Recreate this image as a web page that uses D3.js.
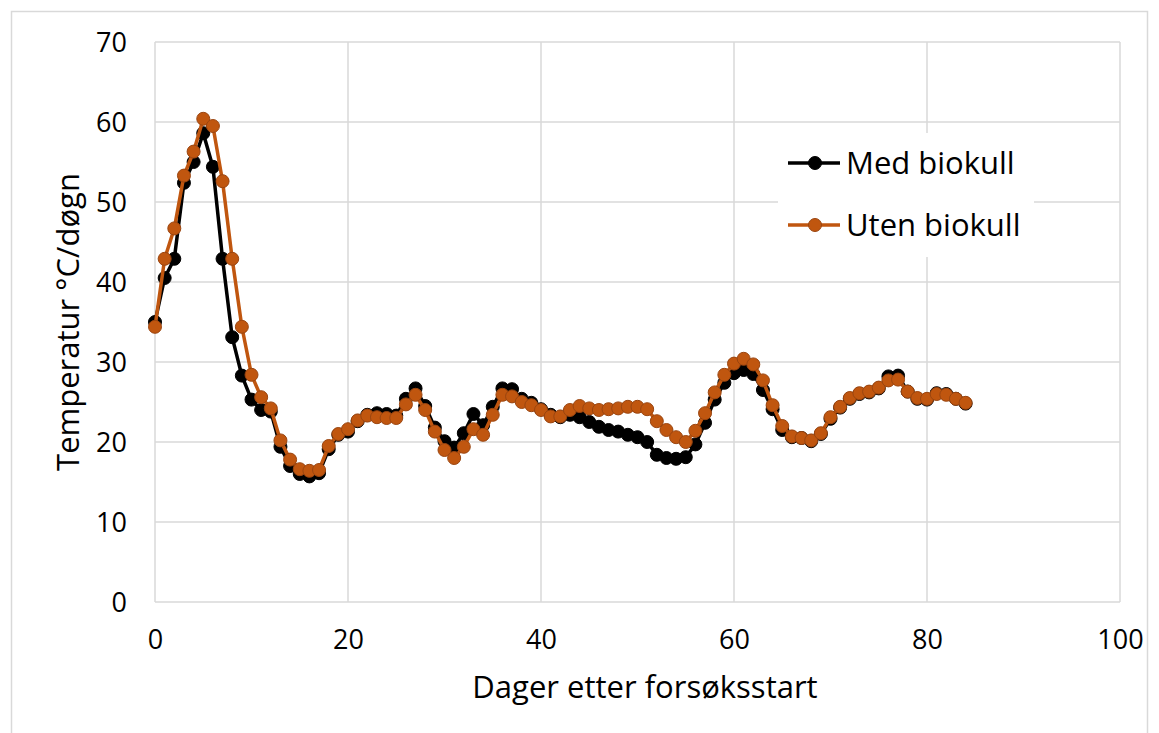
<!DOCTYPE html>
<html>
<head>
<meta charset="utf-8">
<script src="https://cdn.jsdelivr.net/npm/d3@7"></script>
<style>
  body { margin: 0; background: #fff; }
  text { font-family: "Open Sans", "Noto Sans", sans-serif; fill: #000; }
</style>
</head>
<body>
<svg id="chart" width="1159" height="733"></svg>
<script>
// days 0..84
const days = d3.range(0, 85);

const medBiokull = [
  35.0, 40.5, 42.9, 52.4, 55.0, 58.6, 54.4, 42.9, 33.1, 28.3,
  25.3, 24.0, 23.8, 19.4, 17.0, 16.0, 15.7, 16.1, 19.1, 20.9,
  21.3, 22.6, 23.4, 23.6, 23.5, 23.3, 25.4, 26.7, 24.5, 21.8,
  20.1, 19.3, 21.1, 23.5, 22.1, 24.4, 26.7, 26.6, 25.4, 24.9,
  24.1, 23.4, 23.1, 23.4, 23.1, 22.5, 21.9, 21.5, 21.3, 20.9,
  20.6, 20.0, 18.4, 18.0, 17.9, 18.1, 19.7, 22.4, 25.3, 27.4,
  28.6, 29.0, 28.5, 26.5, 24.1, 21.5, 20.6, 20.5, 20.1, 21.0,
  22.9, 24.3, 25.4, 26.0, 26.2, 26.7, 28.2, 28.3, 26.3, 25.4,
  25.3, 26.1, 26.0, 25.4, 24.8
];

const utenBiokull = [
  34.4, 42.9, 46.7, 53.3, 56.3, 60.4, 59.5, 52.6, 42.9, 34.4,
  28.4, 25.6, 24.2, 20.2, 17.8, 16.6, 16.4, 16.5, 19.5, 21.0,
  21.6, 22.7, 23.3, 23.1, 23.0, 23.0, 24.7, 25.9, 24.0, 21.3,
  19.0, 18.0, 19.4, 21.6, 20.9, 23.4, 25.9, 25.7, 25.0, 24.6,
  24.0, 23.2, 23.2, 24.0, 24.5, 24.2, 24.0, 24.1, 24.2, 24.4,
  24.4, 24.1, 22.6, 21.5, 20.6, 20.0, 21.4, 23.6, 26.2, 28.4,
  29.8, 30.4, 29.7, 27.7, 24.6, 22.0, 20.7, 20.5, 20.2, 21.1,
  23.1, 24.4, 25.5, 26.1, 26.3, 26.8, 27.7, 27.8, 26.3, 25.5,
  25.4, 26.0, 25.9, 25.4, 24.9
];

const xTicks = [0, 20, 40, 60, 80, 100];
const yTicks = [0, 10, 20, 30, 40, 50, 60, 70];

const seriesNames = ['Med biokull', 'Uten biokull'];
const seriesColors = ['#000000', '#C0560F'];
const markerEdge = ['#000000', '#9A4510'];

const svg = d3.select('#chart');

// outer chart frame
svg.append('rect')
  .attr('x', 11.5).attr('y', 11.5)
  .attr('width', 1136).attr('height', 740)
  .attr('fill', 'none')
  .attr('stroke', '#d9d9d9')
  .attr('stroke-width', 1.5);

const margin = { top: 42, left: 155, right: 1120, bottom: 602 };

const x = d3.scaleLinear().domain([0, 100]).range([margin.left, margin.right]);
const y = d3.scaleLinear().domain([0, 70]).range([margin.bottom, margin.top]);

// gridlines
svg.append('g')
  .selectAll('line.h')
  .data(yTicks)
  .enter().append('line')
  .attr('x1', margin.left).attr('x2', margin.right)
  .attr('y1', d => y(d)).attr('y2', d => y(d))
  .attr('stroke', '#d9d9d9').attr('stroke-width', 1.5);

svg.append('g')
  .selectAll('line.v')
  .data(xTicks)
  .enter().append('line')
  .attr('x1', d => x(d)).attr('x2', d => x(d))
  .attr('y1', margin.top).attr('y2', margin.bottom)
  .attr('stroke', '#d9d9d9').attr('stroke-width', 1.5);

// axes (labels only)
const xAxis = svg.append('g')
  .attr('transform', 'translate(0,' + margin.bottom + ')')
  .call(d3.axisBottom(x).tickValues(xTicks).tickSize(0).tickPadding(28));
const yAxis = svg.append('g')
  .attr('transform', 'translate(' + margin.left + ',0)')
  .call(d3.axisLeft(y).tickValues(yTicks).tickSize(0).tickPadding(28));
[xAxis, yAxis].forEach(a => {
  a.select('.domain').remove();
  a.selectAll('text').style('font-size', '27px').attr('fill', '#000');
});
yAxis.selectAll('text').attr('dy', '0.35em');

// axis titles
svg.append('text')
  .attr('x', 645)
  .attr('y', 698)
  .attr('text-anchor', 'middle')
  .style('font-size', '31px')
  .text('Dager etter forsøksstart');

svg.append('text')
  .attr('transform', 'translate(79,' + ((margin.top + margin.bottom) / 2) + ') rotate(-90)')
  .attr('text-anchor', 'middle')
  .style('font-size', '31px')
  .text('Temperatur °C/døgn');

// series
const line = d3.line().x((d, i) => x(days[i])).y(d => y(d));
[medBiokull, utenBiokull].forEach((vals, k) => {
  const g = svg.append('g');
  g.append('path')
    .datum(vals)
    .attr('d', line)
    .attr('fill', 'none')
    .attr('stroke', seriesColors[k])
    .attr('stroke-width', 3.5);
  g.selectAll('circle')
    .data(vals)
    .enter().append('circle')
    .attr('cx', (d, i) => x(days[i]))
    .attr('cy', d => y(d))
    .attr('r', 6.5)
    .attr('fill', seriesColors[k])
    .attr('stroke', markerEdge[k])
    .attr('stroke-width', 1);
});

// legend
svg.append('rect')
  .attr('x', 778).attr('y', 133)
  .attr('width', 256).attr('height', 124)
  .attr('fill', '#fff');

const legend = svg.selectAll('.legend')
  .data(seriesNames)
  .enter().append('g')
  .attr('class', 'legend')
  .attr('transform', (d, i) => 'translate(788,' + (163 + i * 62) + ')');

legend.append('line')
  .attr('x1', 0).attr('x2', 52)
  .attr('stroke', (d, i) => seriesColors[i])
  .attr('stroke-width', 3.5);
legend.append('circle')
  .attr('cx', 27).attr('r', 6.5)
  .attr('fill', (d, i) => seriesColors[i])
  .attr('stroke', (d, i) => markerEdge[i])
  .attr('stroke-width', 1);
legend.append('text')
  .attr('x', 58)
  .attr('dy', '0.35em')
  .style('font-size', '31px')
  .text(d => d);
</script>
</body>
</html>
